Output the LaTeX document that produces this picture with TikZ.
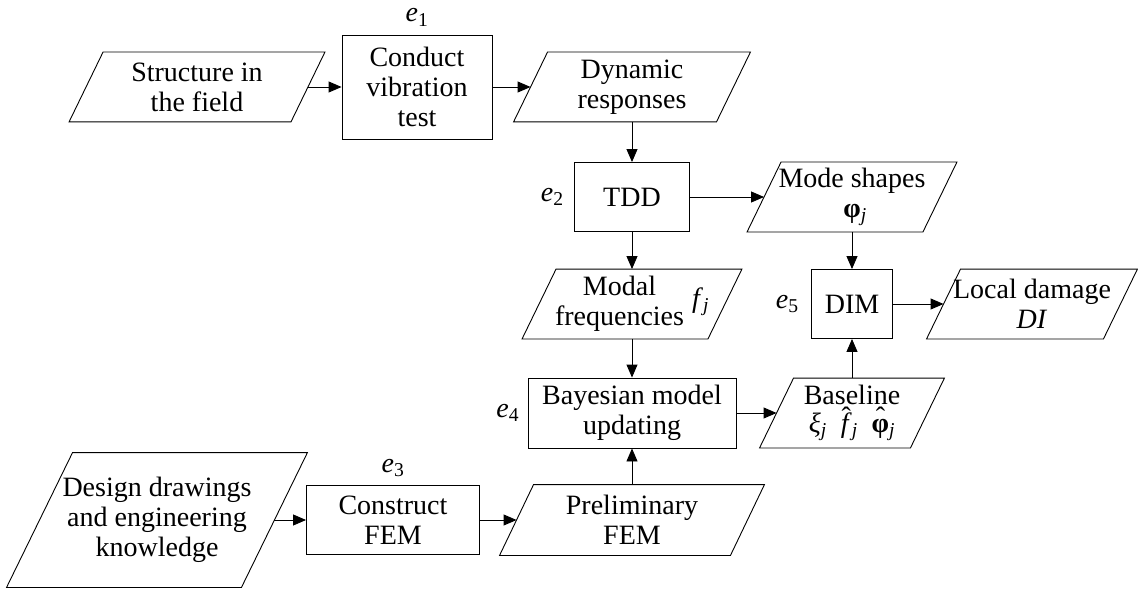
\documentclass[tikz,border=0pt]{standalone}
\usepackage{fontspec}
\setmainfont{Liberation Serif}
\usetikzlibrary{arrows.meta}
\usetikzlibrary{positioning}

\newcommand{\elab}[1]{\textit{e}\textsubscript{#1}}
\newcommand{\subj}{\textsubscript{\textit{j}}}
% circumflex set over a tall letter
\newcommand{\tallhat}[1]{\ooalign{#1\cr\hidewidth\raisebox{0.2em}{\char"02C6}\hidewidth\cr}}

\begin{document}
\begin{tikzpicture}[x=1pt,y=-1pt,line width=0.9pt,
        font=\fontsize{28}{30}\selectfont,
        >={Triangle[length=13pt,width=11pt]},
        block/.style={draw,rectangle,align=center,inner sep=0pt,minimum height=69pt},
        io/.style={rectangle,align=center,inner sep=0pt,minimum height=69pt},
        elabel/.style={inner sep=0pt}]

        \useasboundingbox (0,0) rectangle (1138,591);

        % process steps
        \node[block,minimum width=150pt,minimum height=104pt] (conduct) at (417,87) {Conduct\\vibration\\test};
        \node[block,minimum width=115pt] (tdd) at (632,197) {TDD};
        \node[block,minimum width=81pt] (dim) at (852,304) {DIM};
        \node[block,minimum width=208pt,minimum height=70pt] (bayes) at (632,413) {Bayesian model\\updating};
        \node[block,minimum width=173pt] (construct) at (393,520) {Construct\\FEM};

        % data (drawn as parallelograms below)
        \node[io,minimum width=221pt] (field) at (197,87) {Structure in\\the field};
        \node[io,minimum width=202pt] (dyn) at (632,87) {Dynamic\\responses};
        \node[io,minimum width=175pt] (mode) at (852,197) {Mode shapes\\\hspace{6pt}\textbf{φ}\subj};
        \node[io,minimum width=185pt] (freq) at (632,304)
            {\begin{tabular}{@{}c@{}}Modal\\frequencies\end{tabular}\hspace{8pt}\raisebox{3pt}{\textit{f}\subj}};
        \node[io,minimum width=176pt] (dmg) at (1032,304) {Local damage\\\textit{DI}};
        \node[io,minimum width=150pt] (base) at (852,413)
            {Baseline\\[-2pt]\textit{ξ}\subj\ \ \tallhat{\textit{f}}\subj\ \ \tallhat{\textbf{φ}}\subj};
        \node[io,minimum width=234pt,minimum height=134pt] (design) at (157,520) {Design drawings\\and engineering\\knowledge};
        \node[io,minimum width=230pt,minimum height=70pt] (prelim) at (632,520) {Preliminary\\FEM};

        \foreach \n/\s in {field/17,dyn/17,mode/17,freq/17,dmg/17,base/17,prelim/17,design/33}
            \draw ([xshift=-\s pt]\n.south west) -- ([xshift=-\s pt]\n.south east)
                -- ([xshift=\s pt]\n.north east) -- ([xshift=\s pt]\n.north west) -- cycle;

        % step labels
        \node[elabel,above=8pt of conduct] (e1) {\elab{1}};
        \node[elabel,left=10pt of tdd] (e2) {\elab{2}};
        \node[elabel,above=8pt of construct] (e3) {\elab{3}};
        \node[elabel,left=8pt of bayes] (e4) {\elab{4}};
        \node[elabel,left=12pt of dim] (e5) {\elab{5}};

        % flow
        \draw[->] (field) -- (conduct);
        \draw[->] (conduct) -- (dyn);
        \draw[->] (dyn) -- (tdd);
        \draw[->] (tdd) -- (mode);
        \draw[->] (tdd) -- (freq);
        \draw[->] (mode) -- (dim);
        \draw[->] (dim) -- (dmg);
        \draw[->] (freq) -- (bayes);
        \draw[->] (bayes) -- (base);
        \draw[->] (base) -- (dim);
        \draw[->] (design) -- (construct);
        \draw[->] (construct) -- (prelim);
        \draw[->] (prelim) -- (bayes);
    \end{tikzpicture}
\end{document}
